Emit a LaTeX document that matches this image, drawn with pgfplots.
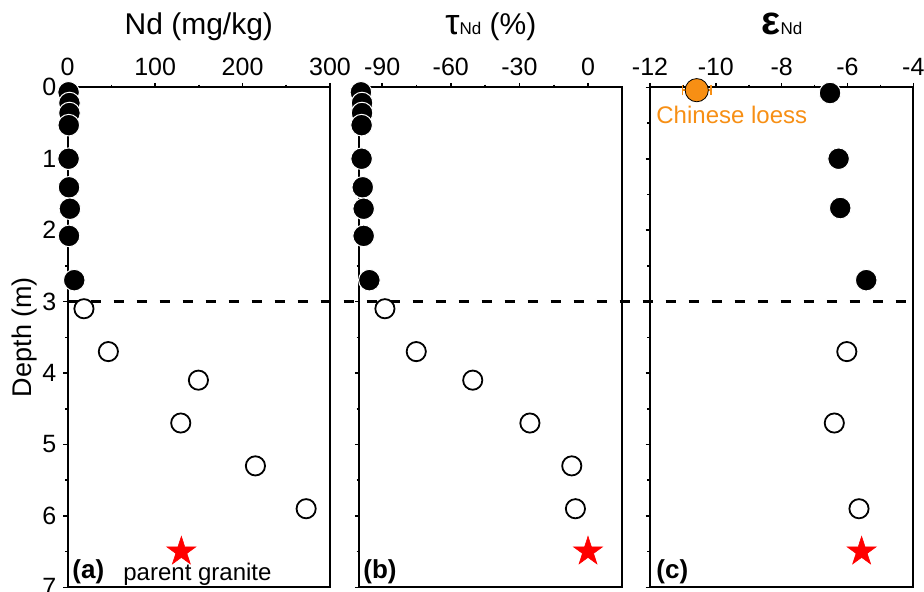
\documentclass[border=0pt]{standalone}
\usepackage{pgfplots}
\pgfplotsset{compat=1.18}
\usepackage{fontspec}
\setmainfont{Liberation Sans}
\definecolor{loess}{RGB}{247,143,20}

\pgfdeclareplotmark{fstar}{%
  \pgfpathmoveto{\pgfpointpolar{90}{\pgfplotmarksize}}%
  \pgfpathlineto{\pgfpointpolar{126}{0.382*\pgfplotmarksize}}%
  \pgfpathlineto{\pgfpointpolar{162}{\pgfplotmarksize}}%
  \pgfpathlineto{\pgfpointpolar{198}{0.382*\pgfplotmarksize}}%
  \pgfpathlineto{\pgfpointpolar{234}{\pgfplotmarksize}}%
  \pgfpathlineto{\pgfpointpolar{270}{0.382*\pgfplotmarksize}}%
  \pgfpathlineto{\pgfpointpolar{306}{\pgfplotmarksize}}%
  \pgfpathlineto{\pgfpointpolar{342}{0.382*\pgfplotmarksize}}%
  \pgfpathlineto{\pgfpointpolar{18}{\pgfplotmarksize}}%
  \pgfpathlineto{\pgfpointpolar{54}{0.382*\pgfplotmarksize}}%
  \pgfpathclose
  \pgfusepathqfillstroke
}

\pgfplotstableread{
x y
1.0 0.07
2.0 0.22
2.0 0.36
1.2 0.53
1.0 1.00
1.5 1.40
2.5 1.70
1.5 2.08
7.5 2.70
}\NdFilled
\pgfplotstableread{
x y
18.6 3.10
46.5 3.70
149.5 4.10
129.3 4.70
214.7 5.30
272.7 5.90
}\NdOpen
\pgfplotstableread{
x y
-99.3 0.07
-98.8 0.22
-98.8 0.36
-99.0 0.53
-99.0 1.00
-98.5 1.40
-98.1 1.70
-98.1 2.08
-95.6 2.70
}\TauFilled
\pgfplotstableread{
x y
-88.8 3.10
-75.1 3.70
-50.4 4.10
-25.4 4.70
-7.1 5.30
-5.5 5.90
}\TauOpen
\pgfplotstableread{
x y
-6.53 0.08
-6.27 1.00
-6.22 1.69
-5.43 2.70
}\EpsFilled
\pgfplotstableread{
x y
-6.02 3.70
-6.40 4.70
-5.65 5.90
}\EpsOpen

\pgfplotsset{
  panel/.style={
    scale only axis, height=250pt, anchor=south west,
    ymin=0, ymax=7, y dir=reverse,
    ytick={0,1,2,3,4,5,6,7}, minor ytick={0.5,1.5,2.5,3.5,4.5,5.5,6.5},
    tick align=outside,
    xtick pos=top, xticklabel pos=top,
    ytick pos=left,
    major tick length=2.2pt, minor tick length=1.3pt,
    axis line style={line width=0.9pt},
    every tick/.style={black, line width=0.8pt},
    tick label style={font=\fontsize{12.5}{14}\selectfont},
    /pgf/number format/assume math mode=true,
    clip=false,
  },
  filled/.style={only marks, mark=*, mark size=5.4pt, mark options={fill=black, draw=white, line width=0.5pt}},
  open/.style={only marks, mark=*, mark size=4.8pt, mark options={fill=white, draw=black, line width=0.9pt}},
  starmk/.style={only marks, mark=fstar, mark size=7.6pt, mark options={fill=red, draw=red, line width=0.3pt}},
}

\begin{document}
\begin{tikzpicture}
\useasboundingbox (0,0) rectangle (462pt,296pt);

% Panel (a)
\begin{axis}[panel, at={(33.85pt,2.35pt)}, width=131.15pt,
  xmin=0, xmax=300, xtick={0,100,200,300}, minor xtick={50,150,250}]
\draw[dash pattern=on 5pt off 6.5pt, line width=1.3pt] (axis cs:0,3) -- (axis cs:967,3);
\addplot[filled] table {\NdFilled};
\addplot[open] table {\NdOpen};
\addplot[starmk] coordinates {(130,6.5)};
\end{axis}

% Panel (b)
\begin{axis}[panel, at={(179.65pt,2.35pt)}, width=131.5pt,
  xmin=-100, xmax=15, xtick={-90,-60,-30,0}, minor xtick={-75,-45,-15},
  yticklabels={}]
\addplot[filled] table {\TauFilled};
\addplot[open] table {\TauOpen};
\addplot[starmk] coordinates {(0,6.5)};
\end{axis}

% Panel (c)
\begin{axis}[panel, at={(325pt,2.35pt)}, width=131.65pt,
  xmin=-12, xmax=-4, xtick={-12,-10,-8,-6,-4}, minor xtick={-11,-9,-7,-5},
  yticklabels={}]
\addplot[filled] table {\EpsFilled};
\addplot[open] table {\EpsOpen};
\addplot[starmk] coordinates {(-5.57,6.5)};
\addplot[only marks, mark=*, mark size=5.8pt,
  mark options={fill=loess, draw=black, line width=0.4pt},
  error bars/.cd, x dir=both, x explicit,
  error mark=|, error bar style={color=loess, line width=0.8pt},
  error mark options={color=loess, mark size=2.6pt, line width=0.8pt}]
  coordinates {(-10.58,0.04) +- (0.43,0)};
\end{axis}

% titles and annotations
\node[anchor=base, font=\fontsize{15}{17}\selectfont] at (99.4pt,278.5pt) {Nd (mg/kg)};
\node[anchor=base, font=\fontsize{15}{17}\selectfont] at (245.4pt,278.5pt)
  {{\fontsize{18}{18}\selectfont τ}{\fontsize{8.5}{9}\selectfont Nd} (\%)};
\node[anchor=base, font=\fontsize{15}{17}\selectfont] at (391pt,278.5pt)
  {{\fontsize{20}{20}\selectfont\bfseries ε}{\fontsize{8.5}{9}\selectfont Nd}};
\node[anchor=base, rotate=90, font=\fontsize{13.5}{15}\selectfont] at (16pt,127.5pt) {Depth (m)};
\node[anchor=base west, inner sep=0pt, font=\bfseries\fontsize{13}{14}\selectfont] at (36pt,6.8pt) {(a)};
\node[anchor=base west, inner sep=0pt, font=\bfseries\fontsize{13}{14}\selectfont] at (181.5pt,6.8pt) {(b)};
\node[anchor=base west, inner sep=0pt, font=\bfseries\fontsize{13}{14}\selectfont] at (328pt,6.8pt) {(c)};
\node[anchor=base west, inner sep=0pt, font=\fontsize{12}{14}\selectfont] at (61.5pt,5.5pt) {parent granite};
\node[anchor=base west, inner sep=0pt, text=loess, font=\fontsize{12}{14}\selectfont] at (328pt,234.3pt) {Chinese loess};
\end{tikzpicture}
\end{document}
